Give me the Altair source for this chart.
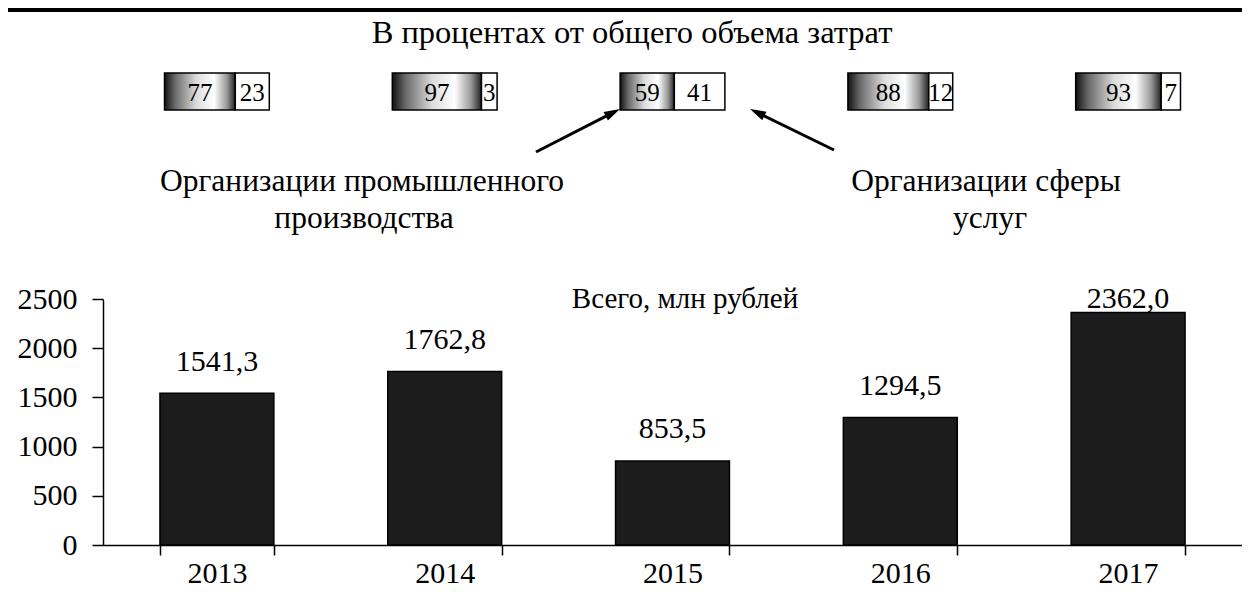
import math
import altair as alt
import pandas as pd

# ---------------- data ----------------
years = ["2013", "2014", "2015", "2016", "2017"]
totals = [1541.3, 1762.8, 853.5, 1294.5, 2362.0]
industry_pct = [77, 97, 59, 88, 93]
services_pct = [23, 3, 41, 12, 7]
y_ticks = [0, 500, 1000, 1500, 2000, 2500]

title_top = "В процентах от общего объема затрат"
title_total = "Всего, млн рублей"
ann_left = ["Организации промышленного", "производства"]
ann_right = ["Организации сферы", "услуг"]

FONT = "Liberation Serif"
W, H = 1139, 246

# ---------------- tables ----------------
bars = pd.DataFrame({"year": years, "total": totals})
bars["label"] = [f"{v:.1f}".replace(".", ",") for v in totals]
bars["label_y"] = [min(v + 230, 2410) for v in totals]

BOX = 0.46        # box width in year-index units
PAD_SEG = 14      # extra display room for the small (services) label box
rows = []
for i, (yr, ind, srv) in enumerate(zip(years, industry_pct, services_pct)):
    d_srv = srv + PAD_SEG
    tot = ind + d_srv
    x0 = i - BOX / 2
    x1 = x0 + BOX * ind / tot
    x2 = i + BOX / 2
    rows.append({"year": yr, "ind": ind, "srv": srv, "x0": x0, "x1": x1, "x2": x2,
                 "m_ind": (x0 + x1) / 2, "m_srv": (x1 + x2) / 2})
boxes = pd.DataFrame(rows)

one = pd.DataFrame({"a": [0]})

# ---------------- bottom bar chart ----------------
xscale = alt.Scale(paddingInner=0.5, paddingOuter=0.25)
xaxis = alt.Axis(title=None, labelAngle=0, tickBand="extent", tickSize=10,
                 labelPadding=3, labelFontSize=30, labelFont=FONT,
                 labelColor="black", domainColor="black", tickColor="black",
                 domainWidth=1.5, tickWidth=1.5, grid=False, domain=True, ticks=True,
                 labels=True, domainOpacity=1, tickOpacity=1)
yscale = alt.Scale(domain=[0, 2500], nice=False)
yaxis = alt.Axis(title=None, values=y_ticks, format="d", grid=False, tickSize=11,
                 labelPadding=15, labelFontSize=30, labelFont=FONT,
                 labelColor="black", domainColor="black", tickColor="black",
                 domainWidth=1.5, tickWidth=1.5, domain=True, ticks=True, labels=True,
                 domainOpacity=1, tickOpacity=1)

# white cover for the faint frame edge along the top of the plot area
cover = alt.Chart(one).mark_rule(color="white", strokeWidth=3).encode(
    x=alt.value(1), x2=alt.value(W + 2), y=alt.value(0), y2=alt.value(0))

bar_layer = alt.Chart(bars).mark_bar(fill="#1c1c1c", stroke="black", strokeWidth=1.5).encode(
    x=alt.X("year:N", sort=years, scale=xscale, axis=xaxis),
    y=alt.Y("total:Q", scale=yscale, axis=yaxis))

val_text = alt.Chart(bars).mark_text(font=FONT, fontSize=30, baseline="alphabetic",
                                     color="black").encode(
    x=alt.X("year:N", sort=years, scale=xscale, axis=xaxis),
    y=alt.Y("label_y:Q", scale=yscale, axis=yaxis), text="label:N")

bottom = alt.layer(bar_layer, val_text)

# ---------------- top percentage boxes ----------------
xq = alt.Scale(domain=[-0.5, 4.5], nice=False, zero=False)
grad = alt.LinearGradient(
    gradient="linear", x1=0, x2=1, y1=0, y2=0,
    stops=[alt.GradientStop(color="#111111", offset=0),
           alt.GradientStop(color="#6a6a6a", offset=0.15),
           alt.GradientStop(color="#dcdcdc", offset=0.45),
           alt.GradientStop(color="#ffffff", offset=0.7),
           alt.GradientStop(color="#9a9a9a", offset=0.88),
           alt.GradientStop(color="#222222", offset=1)])

BY0, BY1 = -226, -189
ind_box = alt.Chart(boxes).mark_rect(fill=grad, stroke="black", strokeWidth=1.5).encode(
    x=alt.X("x0:Q", scale=xq, axis=None), x2="x1:Q",
    y=alt.value(BY0), y2=alt.value(BY1))
srv_box = alt.Chart(boxes).mark_rect(fill="white", stroke="black", strokeWidth=1.5).encode(
    x=alt.X("x1:Q", scale=xq, axis=None), x2="x2:Q",
    y=alt.value(BY0), y2=alt.value(BY1))
ind_txt = alt.Chart(boxes).mark_text(font=FONT, fontSize=25, baseline="middle",
                                     color="black").encode(
    x=alt.X("m_ind:Q", scale=xq, axis=None), y=alt.value((BY0 + BY1) / 2 + 1), text="ind:Q")
srv_txt = alt.Chart(boxes).mark_text(font=FONT, fontSize=25, baseline="middle",
                                     color="black").encode(
    x=alt.X("m_srv:Q", scale=xq, axis=None), y=alt.value((BY0 + BY1) / 2 + 1), text="srv:Q")

# ---------------- annotations ----------------
def label(txt, x, y, size=29):
    return alt.Chart(one).mark_text(text=txt, font=FONT, fontSize=size, align="center",
                                    baseline="alphabetic", color="black").encode(
        x=alt.value(x), y=alt.value(y))

texts = [
    label(title_top, 529, -256, 32.5),
    label(title_total, 582, 9, 29),
    label(ann_left[0], 259, -108, 31.5),
    label(ann_left[1], 261, -71, 31.5),
    label(ann_right[0], 883, -108, 31.5),
    label(ann_right[1], 887, -71, 31.5),
]

def arrow(tail, tip, head=8):
    dx, dy = tip[0] - tail[0], tip[1] - tail[1]
    L = math.hypot(dx, dy)
    ux, uy = dx / L, dy / L
    cx, cy = tip[0] - head * ux, tip[1] - head * uy
    ang = math.degrees(math.atan2(dx, -dy)) % 360
    shaft = alt.Chart(one).mark_rule(color="black", strokeWidth=3).encode(
        x=alt.value(tail[0]), y=alt.value(tail[1]),
        x2=alt.value(cx), y2=alt.value(cy))
    tri = alt.Chart(one).mark_point(shape="M0,-1L0.6,1L-0.6,1Z", filled=True, opacity=1,
                                    size=(2 * head) ** 2, angle=ang, color="black",
                                    strokeWidth=0).encode(
        x=alt.value(cx), y=alt.value(cy))
    return [shaft, tri]

arrows = arrow((433, -147), (517, -190)) + arrow((731, -149), (647, -190))

top_line = alt.Chart(one).mark_rule(color="black", strokeWidth=4).encode(
    x=alt.value(-95), x2=alt.value(W), y=alt.value(-289), y2=alt.value(-289))

chart = alt.layer(
    cover, bottom, ind_box, srv_box, ind_txt, srv_txt, *texts, *arrows, top_line
).resolve_scale(x="independent").properties(
    width=W, height=H,
    padding={"left": 95, "top": 291, "right": 0, "bottom": 44},
    autosize=alt.AutoSizeParams(type="none"),
    view=alt.ViewBackground(stroke="transparent", strokeOpacity=0),
).configure_view(stroke="transparent", strokeOpacity=0, strokeWidth=0).configure_axis(
    domain=False, ticks=False, grid=False, labels=False
).configure(background="white")

chart.save("out.html", embed_options={"renderer": "svg", "actions": False})
